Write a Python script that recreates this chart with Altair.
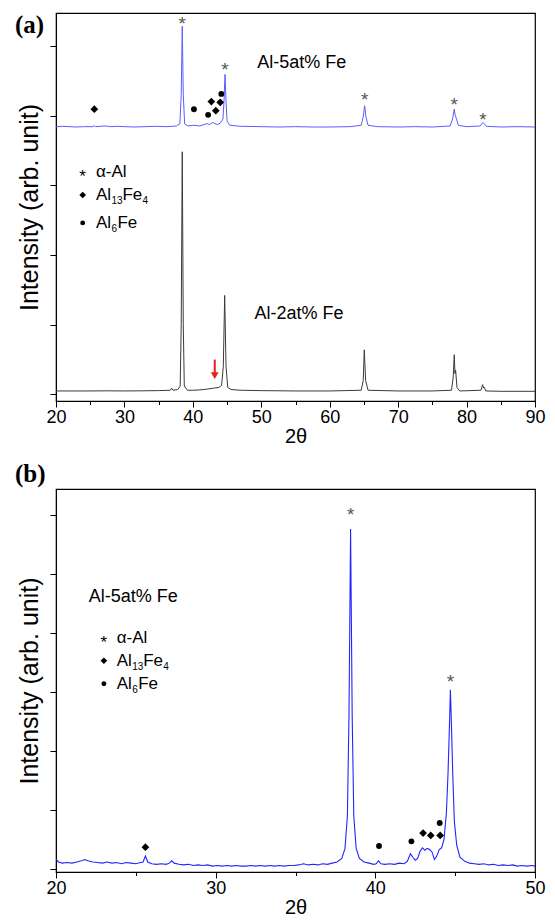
import altair as alt
import pandas as pd

SANS = "Liberation Sans"
SERIF = "Liberation Serif"

# ---------------- Panel (a) spectra ----------------
a5_x = [20.0, 21.0, 22.0, 23.0, 24.0, 25.0, 25.4, 25.6, 25.8, 26.5, 27.2, 28.0, 29.0, 30.0, 31.5, 33.0, 34.5,
        36.0, 37.0, 37.6, 38.1, 38.3, 38.45, 38.6, 38.8, 39.3, 40.1, 41.0, 42.1, 42.4, 42.9, 43.3, 43.6,
        44.0, 44.4, 44.55, 44.7, 44.85, 45.0, 45.4, 47.0, 50.0, 52.5, 55.0, 57.5, 60.0, 63.0, 64.6, 64.9,
        65.1, 65.3, 65.6, 67.0, 70.0, 72.5, 75.0, 77.6, 77.95, 78.2, 78.35, 78.5, 78.8, 80.0, 82.0,
        82.4, 82.6, 82.9, 85.0, 87.5, 90.0]
a5_y = [3.84, 3.845, 3.84, 3.835, 3.84, 3.84, 3.84, 3.855, 3.84, 3.845, 3.85, 3.84, 3.845, 3.84, 3.835, 3.84, 3.845,
        3.84, 3.845, 3.85, 3.88, 4.3, 5.28, 4.3, 3.88, 3.85, 3.86, 3.85, 3.885, 3.87, 3.9, 3.88, 3.87,
        3.89, 3.95, 4.2, 4.59, 4.2, 3.92, 3.86, 3.845, 3.84, 3.835, 3.84, 3.835, 3.835, 3.84, 3.86, 3.98,
        4.14, 3.98, 3.86, 3.84, 3.835, 3.84, 3.835, 3.85, 3.95, 4.09, 4.0, 3.96, 3.86, 3.84, 3.85,
        3.9, 3.88, 3.845, 3.835, 3.84, 3.835]

a2_x = [20.0, 22.5, 25.0, 27.5, 30.0, 32.5, 35.0, 36.7, 36.9, 37.1, 37.8, 38.15, 38.3, 38.45, 38.6, 38.75,
        39.2, 40.0, 41.0, 42.0, 43.0, 43.8, 44.2, 44.45, 44.65, 44.85, 45.1, 45.6, 47.0, 50.0, 55.0,
        60.0, 64.6, 64.9, 65.05, 65.25, 65.6, 70.0, 75.0, 77.8, 78.05, 78.2, 78.3, 78.4, 78.6, 79.0,
        82.1, 82.35, 82.5, 82.6, 82.8, 85.0, 90.0]
a2_y = [0.05, 0.05, 0.05, 0.052, 0.05, 0.052, 0.055, 0.06, 0.09, 0.06, 0.07, 0.12, 1.0, 3.48, 1.0, 0.12,
        0.06, 0.06, 0.065, 0.075, 0.09, 0.1, 0.13, 0.4, 1.42, 0.4, 0.1, 0.07, 0.06, 0.055, 0.05,
        0.05, 0.06, 0.2, 0.64, 0.2, 0.06, 0.05, 0.05, 0.06, 0.25, 0.57, 0.3, 0.35, 0.1, 0.05,
        0.06, 0.14, 0.09, 0.1, 0.05, 0.045, 0.045]

# phase markers, panel (a)
ast_a_x = [38.45, 44.7, 65.1, 78.2, 82.4]
ast_a_y = [5.38, 4.73, 4.30, 4.22, 4.01]
dia_a_x = [25.6, 42.7, 43.35, 44.0]
dia_a_y = [4.09, 4.20, 4.07, 4.19]
cir_a_x = [40.16, 42.23, 44.16]
cir_a_y = [4.09, 4.01, 4.31]
arrow_x = [43.2]
arrow_top = [0.50]
arrow_bot = [0.27]

# ---------------- Panel (b) spectrum ----------------
b5_x = [20.0, 20.15, 20.4, 20.7, 21.0, 21.3, 21.6, 21.8, 22.0, 22.3, 22.6, 22.9, 23.2, 23.5, 23.8, 24.1,
        24.4, 24.7, 25.0, 25.3, 25.45, 25.6, 25.75, 26.0, 26.3, 26.6, 26.9, 27.1, 27.25, 27.4, 27.7, 28.0,
        28.3, 28.6, 28.9, 29.2, 29.5, 29.8, 30.1, 30.4, 30.7, 31.0, 31.3, 31.6, 31.9, 32.2, 32.5, 32.8,
        33.1, 33.4, 33.7, 34.0, 34.3, 34.6, 34.9, 35.2, 35.5, 35.8, 36.1, 36.4, 36.7, 37.0, 37.3, 37.6,
        37.9, 38.1, 38.25, 38.35, 38.45, 38.55, 38.65, 38.8, 39.0, 39.3, 39.6, 39.9, 40.05, 40.2, 40.35,
        40.6, 40.9, 41.2, 41.5, 41.8, 42.0, 42.2, 42.35, 42.5, 42.65, 42.8, 42.95, 43.1, 43.25, 43.4,
        43.55, 43.7, 43.85, 44.0, 44.15, 44.3, 44.45, 44.55, 44.65, 44.7, 44.75, 44.85, 44.95, 45.1,
        45.3, 45.6, 45.9, 46.2, 46.5, 46.8, 47.1, 47.4, 47.7, 48.0, 48.3, 48.6, 48.9, 49.2, 49.5, 49.8, 50.0]
b5_y = [0.17, 0.12, 0.10, 0.11, 0.10, 0.12, 0.14, 0.16, 0.14, 0.12, 0.11, 0.10, 0.12, 0.10, 0.11, 0.09,
        0.11, 0.10, 0.09, 0.11, 0.12, 0.22, 0.12, 0.09, 0.08, 0.09, 0.08, 0.10, 0.14, 0.10, 0.08, 0.07,
        0.08, 0.06, 0.07, 0.06, 0.07, 0.05, 0.06, 0.05, 0.06, 0.05, 0.06, 0.05, 0.05, 0.06, 0.05, 0.06,
        0.05, 0.06, 0.05, 0.06, 0.05, 0.06, 0.06, 0.07, 0.09, 0.07, 0.08, 0.07, 0.09, 0.08, 0.10, 0.12,
        0.18, 0.35, 0.9, 2.6, 5.76, 2.6, 0.9, 0.35, 0.18, 0.12, 0.10, 0.08, 0.09, 0.14, 0.09,
        0.08, 0.09, 0.08, 0.10, 0.09, 0.13, 0.26, 0.20, 0.15, 0.18, 0.30, 0.36, 0.32, 0.35, 0.33,
        0.29, 0.16, 0.22, 0.33, 0.36, 0.50, 0.95, 1.6, 2.5, 3.04, 2.6, 1.6, 0.8, 0.4,
        0.2, 0.13, 0.10, 0.09, 0.08, 0.09, 0.07, 0.08, 0.06, 0.07, 0.06, 0.07, 0.05, 0.06, 0.05, 0.06, 0.05]

ast_b_x = [38.45, 44.7]
ast_b_y = [6.08, 3.26]
dia_b_x = [25.6, 42.99, 43.47, 44.06]
dia_b_y = [0.37, 0.61, 0.57, 0.57]
cir_b_x = [40.23, 42.26, 44.03]
cir_b_y = [0.39, 0.47, 0.78]

# annotation texts / legend positions (data coordinates)
a_sample_x = [49.4, 49.0]
a_sample_y = [4.75, 1.16]
a_sample_t = ["Al-5at% Fe", "Al-2at% Fe"]
a_leg_sym_x = 23.9
a_leg_txt_x = 25.84
a_leg_y = [3.19, 2.86, 2.46]

b_sample_x = [22.05]
b_sample_y = [4.61]
b_sample_t = ["Al-5at% Fe"]
b_leg_sym_x = 23.0
b_leg_txt_x = 23.8
b_leg_y = [3.92, 3.53, 3.14]

x_ticks_a = [20, 25, 30, 35, 40, 45, 50, 55, 60, 65, 70, 75, 80, 85, 90]
x_ticks_b = [20, 25, 30, 35, 40, 45, 50]
y_ticks_a = [0, 1, 2, 3, 4, 5]
y_ticks_b = [0, 1, 2, 3, 4, 5, 6]


def panel(xdom, ydom, xt, yt, w, h, spectra, ast, dia, cir, samples, leg_sym_x, leg_txt_x, leg_y,
          labels, extra=None):
    xs = alt.Scale(domain=xdom, nice=False, zero=False)
    ys = alt.Scale(domain=ydom, nice=False, zero=False)
    xax = alt.Axis(values=xt, title="2θ", grid=False,
                   labelExpr="datum.value % 10 === 0 ? datum.label : ''",
                   tickSize={"condition": {"test": "datum.value % 10 === 0", "value": 6}, "value": 3.5},
                   tickColor="black", domainColor="black", labelColor="black",
                   labelFont=SANS, labelFontSize=18, labelPadding=1,
                   titleFont=SANS, titleFontSize=20, titleFontWeight="normal", titleColor="black",
                   titlePadding=0, labelFlush=False)
    yax = alt.Axis(values=yt, title="Intensity (arb. unit)", grid=False, labels=False,
                   tickSize=6, tickColor="black", domainColor="black",
                   titleFont=SANS, titleFontSize=25, titleFontWeight="normal", titleColor="black",
                   titlePadding=7)
    X = lambda: alt.X("x:Q", scale=xs, axis=xax)
    Y = lambda: alt.Y("y:Q", scale=ys, axis=yax)

    layers = []
    for (sx, sy, col, sw) in spectra:
        df = pd.DataFrame({"x": sx, "y": sy})
        layers.append(alt.Chart(df).mark_line(color=col, strokeWidth=sw, clip=True).encode(x=X(), y=Y()))

    if extra is not None:
        layers.extend(extra(X, Y))

    # asterisks over alpha-Al peaks
    layers.append(alt.Chart(pd.DataFrame({"x": ast[0], "y": ast[1], "t": ["*"] * len(ast[0])}))
                  .mark_text(font=SANS, fontSize=19, color="#555555", baseline="alphabetic", dy=11)
                  .encode(x=X(), y=Y(), text="t:N"))
    layers.append(alt.Chart(pd.DataFrame({"x": dia[0], "y": dia[1]}))
                  .mark_point(shape="diamond", filled=True, color="black", opacity=1, size=60)
                  .encode(x=X(), y=Y()))
    layers.append(alt.Chart(pd.DataFrame({"x": cir[0], "y": cir[1]}))
                  .mark_point(shape="circle", filled=True, color="black", opacity=1, size=34)
                  .encode(x=X(), y=Y()))
    # sample names
    layers.append(alt.Chart(pd.DataFrame({"x": samples[0], "y": samples[1], "t": samples[2]}))
                  .mark_text(font=SANS, fontSize=18, color="black", align="left", baseline="middle")
                  .encode(x=X(), y=Y(), text="t:N"))
    # legend symbols
    layers.append(alt.Chart(pd.DataFrame({"x": [leg_sym_x], "y": [leg_y[0]], "t": ["*"]}))
                  .mark_text(font=SANS, fontSize=17, color="black", baseline="alphabetic", dy=10)
                  .encode(x=X(), y=Y(), text="t:N"))
    layers.append(alt.Chart(pd.DataFrame({"x": [leg_sym_x], "y": [leg_y[1]]}))
                  .mark_point(shape="diamond", filled=True, color="black", opacity=1, size=45)
                  .encode(x=X(), y=Y()))
    layers.append(alt.Chart(pd.DataFrame({"x": [leg_sym_x], "y": [leg_y[2]]}))
                  .mark_point(shape="circle", filled=True, color="black", opacity=1, size=24)
                  .encode(x=X(), y=Y()))
    # legend texts with subscripts
    main = pd.DataFrame({"x": [leg_txt_x] * 3, "y": leg_y, "t": ["α-Al", "Al", "Al"]})
    layers.append(alt.Chart(main).mark_text(font=SANS, fontSize=17, color="black", align="left",
                                            baseline="middle").encode(x=X(), y=Y(), text="t:N"))
    pieces = [("13", leg_y[1], 15.5, 6, 10), ("Fe", leg_y[1], 26.5, 0, 17), ("4", leg_y[1], 46.5, 6, 10),
              ("6", leg_y[2], 15.5, 6, 10), ("Fe", leg_y[2], 21.5, 0, 17)]
    for (t, yy, dx, dy, fs) in pieces:
        layers.append(alt.Chart(pd.DataFrame({"x": [leg_txt_x], "y": [yy], "t": [t]}))
                      .mark_text(font=SANS, fontSize=fs, color="black", align="left", baseline="middle",
                                 dx=dx, dy=dy)
                      .encode(x=X(), y=Y(), text="t:N"))
    # panel labels
    for (lab, ly) in labels:
        layers.append(alt.Chart(pd.DataFrame({"t": [lab]}))
                      .mark_text(font=SERIF, fontSize=25, fontWeight="bold", color="black", align="left",
                                 baseline="middle")
                      .encode(x=alt.value(-41), y=alt.value(ly), text="t:N"))
    return alt.layer(*layers).properties(width=w, height=h)


def arrow_layers(X, Y):
    df = pd.DataFrame({"x": arrow_x, "y": arrow_top, "y2": arrow_bot})
    rule = alt.Chart(df).mark_rule(color="#e8201a", strokeWidth=2).encode(
        x=X(), y=Y(), y2="y2:Q")
    head = alt.Chart(pd.DataFrame({"x": arrow_x, "y": arrow_bot})).mark_point(
        shape="triangle-down", filled=True, color="#e8201a", opacity=1, size=60).encode(x=X(), y=Y())
    return [rule, head]


pa = panel([20, 90], [-0.094, 5.47], x_ticks_a, y_ticks_a, 479, 388,
           [(a5_x, a5_y, "#5c5cff", 1.0), (a2_x, a2_y, "#3a3a3a", 1.0)],
           (ast_a_x, ast_a_y), (dia_a_x, dia_a_y), (cir_a_x, cir_a_y),
           (a_sample_x, a_sample_y, a_sample_t), a_leg_sym_x, a_leg_txt_x, a_leg_y,
           [("(a)", 12), ("(b)", 461)], extra=arrow_layers)

pb = panel([20, 50], [-0.05, 6.44], x_ticks_b, y_ticks_b, 479, 383,
           [(b5_x, b5_y, "#2424ff", 1.1)],
           (ast_b_x, ast_b_y), (dia_b_x, dia_b_y), (cir_b_x, cir_b_y),
           (b_sample_x, b_sample_y, b_sample_t), b_leg_sym_x, b_leg_txt_x, b_leg_y,
           [])

chart = alt.vconcat(pa, pb, spacing=0).properties(
    padding={"left": 6, "top": 4, "right": 0, "bottom": 0}
).configure(background="white").configure_view(stroke="black", strokeWidth=1.2)

chart.save("out.html", embed_options={"renderer": "svg", "actions": False})
